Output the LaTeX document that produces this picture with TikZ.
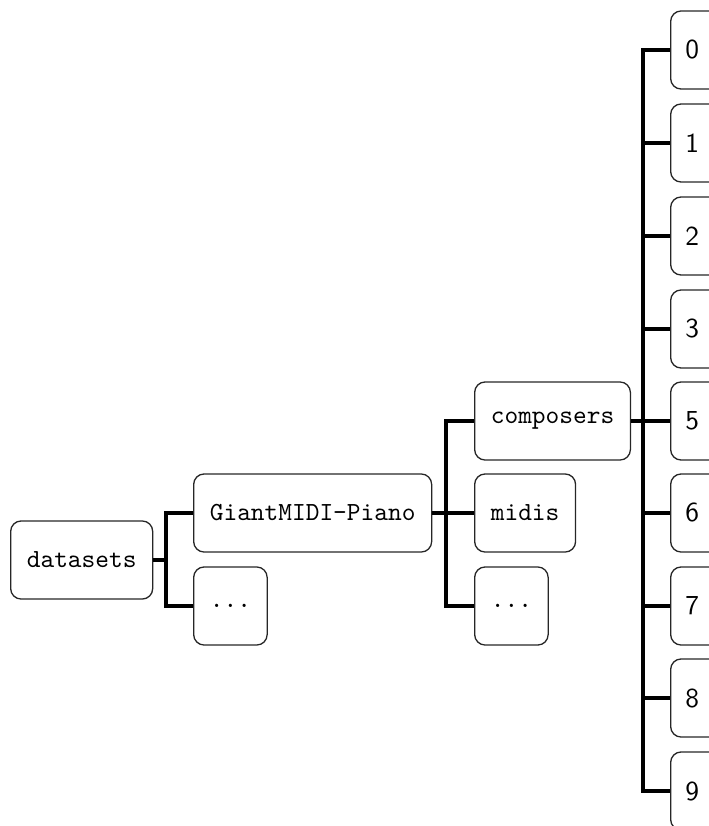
\documentclass[tikz,border=0pt]{standalone}
\begin{document}
\begin{tikzpicture}[x=0.383pt,y=-0.383pt,
  box/.style={draw=black!85, line width=0.5pt, rounded corners=4pt, minimum height=29.9pt,
    inner xsep=6.2pt, anchor=west, font=\ttfamily},
  digit/.style={draw=black!85, line width=0.5pt, rounded corners=4pt, minimum height=29.9pt,
    inner xsep=5.6pt, text width=22pt, align=left, anchor=west, font=\sffamily\fontsize{10.5}{12}\selectfont},
  conn/.style={line width=1.25pt}]
\useasboundingbox (0,0) rectangle (708,826);
% level 0
\node[box] (datasets) at (10,560) {datasets};
% level 1
\node[box] (giant) at (193,513) {GiantMIDI-Piano};
\node[box] (dotsA) at (193,606) {...};
% level 2
\node[box] (composers) at (474,421) {composers};
\node[box] (midis) at (474,513) {midis};
\node[box] (dotsB) at (474,606) {...};
% level 3
\node[digit] (d0) at (670,50) {0};
\node[digit] (d1) at (670,143) {1};
\node[digit] (d2) at (670,236) {2};
\node[digit] (d3) at (670,329) {3};
\node[digit] (d5) at (670,421) {5};
\node[digit] (d6) at (670,513) {6};
\node[digit] (d7) at (670,606) {7};
\node[digit] (d8) at (670,698) {8};
\node[digit] (d9) at (670,791) {9};
% buses
\coordinate (b1) at (166,0);
\coordinate (b2) at (446,0);
\coordinate (b3) at (643,0);
\foreach \c in {giant,dotsA}
  \draw[conn] (datasets.east) -- (datasets.east -| b1) |- (\c.west);
\foreach \c in {composers,midis,dotsB}
  \draw[conn] (giant.east) -- (giant.east -| b2) |- (\c.west);
\foreach \c in {d0,d1,d2,d3,d5,d6,d7,d8,d9}
  \draw[conn] (composers.east) -- (composers.east -| b3) |- (\c.west);
\end{tikzpicture}
\end{document}
